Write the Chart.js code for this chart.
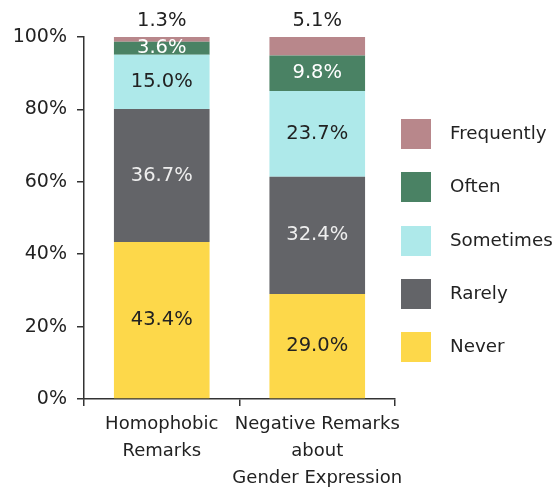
<!DOCTYPE html>
<html>
<head>
<meta charset="utf-8">
<script src="https://cdn.jsdelivr.net/npm/chart.js@4/dist/chart.umd.min.js"></script>
<style>
  body { margin: 0; background: #fff; }
  #wrap { position: relative; width: 554px; height: 487px; }
  #legend { position: absolute; left: 401px; top: 119px; font-family: "DejaVu Sans", sans-serif; font-size: 18.3px; color: #222; }
  .item { position: relative; height: 30px; margin-bottom: 23.3px; }
  .box { position: absolute; left: 0; top: 0; width: 30px; height: 30px; }
  .txt { position: absolute; left: 49px; top: 3px; white-space: nowrap; }
</style>
</head>
<body>
<div id="wrap">
  <canvas id="chart" width="554" height="487"></canvas>
  <div id="legend"></div>
</div>
<script>
const categories = [["Homophobic", "Remarks"], ["Negative Remarks", "about", "Gender Expression"]];
const seriesNames = ["Never", "Rarely", "Sometimes", "Often", "Frequently"];
const never = [43.4, 29.0];
const rarely = [36.7, 32.4];
const sometimes = [15.0, 23.7];
const often = [3.6, 9.8];
const frequently = [1.3, 5.1];
const yTicks = [0, 20, 40, 60, 80, 100];

const colors = ["#fdd84a", "#636468", "#aee9ea", "#4a8264", "#b8878b"];
const labelColors = ["#222", "#eeeeee", "#222", "#ffffff", "#222"];
const font = "'DejaVu Sans', sans-serif";

const values = [never, rarely, sometimes, often, frequently];

const datasets = seriesNames.map((name, i) => ({
    label: name,
    data: values[i],
    backgroundColor: colors[i],
    borderWidth: 0,
    barPercentage: 0.615,
    categoryPercentage: 1
}));

// value labels, centred in each segment, the top one above the bar
const valueLabels = {
    id: 'valueLabels',
    afterDatasetsDraw(chart) {
        const ctx = chart.ctx;
        ctx.save();
        ctx.font = "19.5px " + font;
        ctx.textAlign = "center";
        ctx.textBaseline = "middle";
        chart.data.datasets.forEach((ds, i) => {
            chart.getDatasetMeta(i).data.forEach((bar, j) => {
                let y = (bar.y + bar.base) / 2;
                if (i == datasets.length - 1) y = bar.y - 16;
                ctx.fillStyle = labelColors[i];
                ctx.fillText(ds.data[j].toFixed(1) + "%", bar.x, y);
            });
        });
        ctx.restore();
    }
};

const axisColor = "#333";

new Chart(document.getElementById("chart"), {
    type: 'bar',
    data: { labels: categories, datasets: datasets },
    options: {
        responsive: false,
        animation: false,
        layout: { padding: { left: 0, right: 159, top: 37, bottom: 0 } },
        plugins: {
            legend: { display: false },
            tooltip: { enabled: false }
        },
        scales: {
            x: {
                stacked: true,
                border: { color: axisColor, width: 1.5 },
                grid: { drawOnChartArea: false, drawTicks: true, tickLength: 7, color: axisColor, lineWidth: 1.5 },
                ticks: { color: "#222", font: { family: font, size: 18, lineHeight: 1.5 }, padding: 5, maxRotation: 0, autoSkip: false },
                afterFit(scale) { scale.height = 88; }
            },
            y: {
                stacked: true,
                min: 0,
                max: 100,
                afterBuildTicks(scale) { scale.ticks = yTicks.map(v => ({ value: v })); },
                border: { color: axisColor, width: 1.5 },
                grid: { drawOnChartArea: false, drawTicks: true, tickLength: 7, color: axisColor, lineWidth: 1.5 },
                ticks: { color: "#222", font: { family: font, size: 19 }, padding: 10, callback: v => v + "%" },
                afterFit(scale) { scale.width = 84; }
            }
        }
    },
    plugins: [valueLabels]
});

// legend, top entry first
const legend = document.getElementById("legend");
for (let i = seriesNames.length - 1; i >= 0; i--) {
    legend.innerHTML += `<div class="item"><div class="box" style="background:${colors[i]}"></div><div class="txt">${seriesNames[i]}</div></div>`;
}
</script>
</body>
</html>
